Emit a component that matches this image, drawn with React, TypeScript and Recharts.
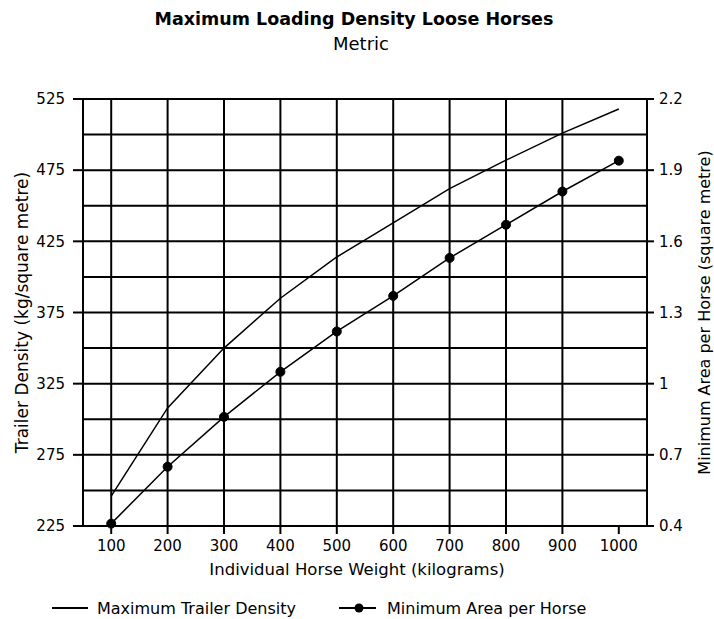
import React from 'react';
import { CartesianGrid, Label, Line, LineChart, XAxis, YAxis } from 'recharts';

// horse weight in kg
const weights = [100, 200, 300, 400, 500, 600, 700, 800, 900, 1000];
// kg per square metre (left axis)
const maxTrailerDensity = [246, 308, 350, 385, 414, 438, 462, 482, 501, 518];
// square metre per horse (right axis)
const minAreaPerHorse = [0.41, 0.65, 0.86, 1.05, 1.22, 1.37, 1.53, 1.67, 1.81, 1.94];

const xTicks = [100, 200, 300, 400, 500, 600, 700, 800, 900, 1000];
const densityTicks = [225, 275, 325, 375, 425, 475, 525];
const areaTicks = [0.4, 0.7, 1, 1.3, 1.6, 1.9, 2.2];
const gridDensity = [225, 250, 275, 300, 325, 350, 375, 400, 425, 450, 475, 500, 525];
const gridWeights = [50, 100, 200, 300, 400, 500, 600, 700, 800, 900, 1000, 1050];

const data = weights.map((w, i) => ({
  weight: w,
  density: maxTrailerDensity[i],
  area: minAreaPerHorse[i],
}));

const FONT = 'DejaVu Sans';
const tickStyle = { fill: '#000', fontSize: 15, fontFamily: FONT };
const axisStroke = { stroke: '#000', strokeWidth: 2 };

export default function App() {
  return (
    <div style={{ position: 'absolute', left: 0, top: 0, width: 714, height: 619, background: '#fff' }}>
      <LineChart width={714} height={619} data={data} margin={{ top: 99, right: 0, bottom: 0, left: 0 }}>
        <CartesianGrid
          yAxisId="left"
          stroke="#000"
          strokeWidth={2}
          horizontalValues={gridDensity}
          verticalValues={gridWeights}
        />
        <XAxis
          dataKey="weight"
          type="number"
          domain={[50, 1050]}
          ticks={xTicks}
          height={93}
          tick={tickStyle}
          tickSize={8}
          tickMargin={6}
          axisLine={axisStroke}
          tickLine={axisStroke}
        >
          <Label
            value="Individual Horse Weight (kilograms)"
            position="insideTop"
            offset={37}
            dx={-8}
            style={{ fill: '#000', fontSize: 16.5, fontFamily: FONT }}
          />
        </XAxis>
        <YAxis
          yAxisId="left"
          type="number"
          domain={[225, 525]}
          ticks={densityTicks}
          width={83}
          tick={tickStyle}
          tickSize={10}
          tickMargin={8}
          axisLine={axisStroke}
          tickLine={axisStroke}
        >
          <Label
            value="Trailer Density (kg/square metre)"
            angle={-90}
            position="insideLeft"
            offset={22}
            style={{ fill: '#000', fontSize: 17, fontFamily: FONT, textAnchor: 'middle' }}
          />
        </YAxis>
        <YAxis
          yAxisId="right"
          orientation="right"
          type="number"
          domain={[0.4, 2.2]}
          ticks={areaTicks}
          width={67}
          tick={tickStyle}
          tickSize={7}
          tickMargin={5}
          axisLine={axisStroke}
          tickLine={axisStroke}
        >
          <Label
            value="Minimum Area per Horse (square metre)"
            angle={-90}
            position="insideRight"
            offset={10}
            style={{ fill: '#000', fontSize: 16, fontFamily: FONT, textAnchor: 'middle' }}
          />
        </YAxis>
        <Line
          yAxisId="left"
          dataKey="density"
          type="linear"
          stroke="#000"
          strokeWidth={1.5}
          dot={false}
          activeDot={false}
          isAnimationActive={false}
        />
        <Line
          yAxisId="right"
          dataKey="area"
          type="linear"
          stroke="#000"
          strokeWidth={1.5}
          dot={{ r: 4.5, fill: '#000', stroke: '#000', strokeWidth: 1 }}
          activeDot={false}
          isAnimationActive={false}
        />
      </LineChart>
      <svg
        width={714}
        height={619}
        style={{ position: 'absolute', left: 0, top: 0, pointerEvents: 'none' }}
        fontFamily={FONT}
      >
        <text x={354} y={25} textAnchor="middle" fontSize={17.5} fontWeight="bold" fill="#000">
          Maximum Loading Density Loose Horses
        </text>
        <text x={361} y={50} textAnchor="middle" fontSize={18} fill="#000">
          Metric
        </text>
        <line x1={52} y1={608} x2={88} y2={608} stroke="#000" strokeWidth={2} />
        <text x={97} y={614} fontSize={16} fill="#000">
          Maximum Trailer Density
        </text>
        <line x1={339} y1={608} x2={376} y2={608} stroke="#000" strokeWidth={2} />
        <circle cx={359} cy={608} r={4.5} fill="#000" />
        <text x={387} y={614} fontSize={16} fill="#000">
          Minimum Area per Horse
        </text>
      </svg>
    </div>
  );
}
